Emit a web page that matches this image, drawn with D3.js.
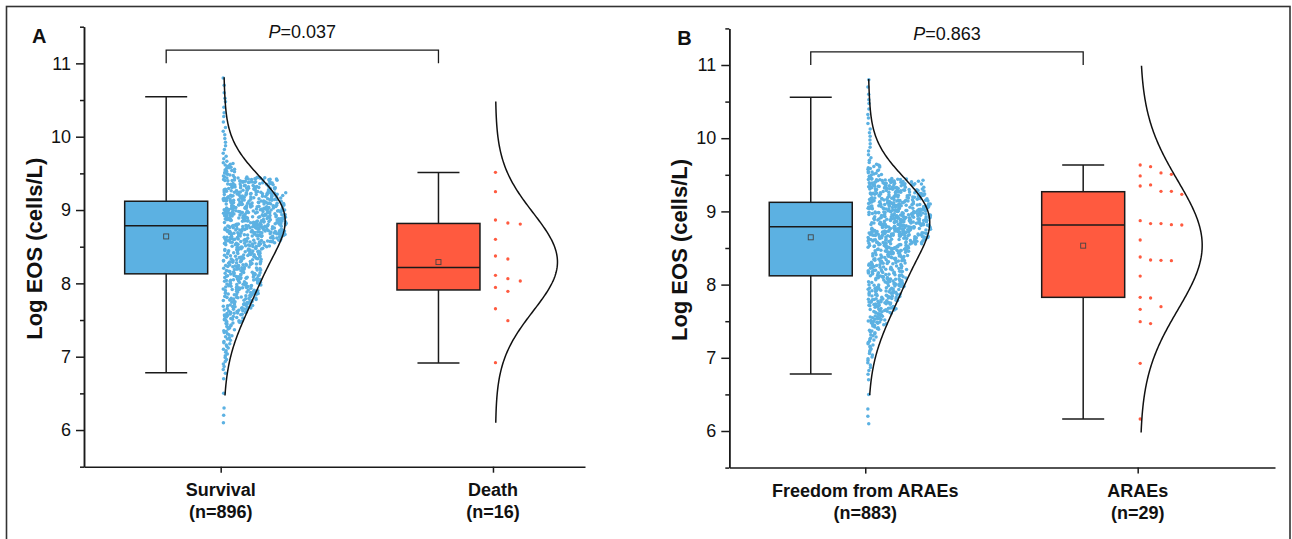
<!DOCTYPE html>
<html>
<head>
<meta charset="utf-8">
<script src="https://cdn.jsdelivr.net/npm/d3@7"></script>
<style>
  body { margin: 0; background: #fff; }
  svg { display: block; font-family: Arial, "Liberation Sans", sans-serif; }
</style>
</head>
<body>
<svg id="chart" width="1292" height="539"></svg>
<script>
// ---- data ----
const groupNames = ['Survival', 'Death', 'Freedom from ARAEs', 'ARAEs'];
const groupN = [896, 16, 883, 29];
const pValues = ['0.037', '0.863'];
const yTicks = [6, 7, 8, 9, 10, 11];
const yMinorTicks = [5.5, 6.5, 7.5, 8.5, 9.5, 10.5, 11.5];

// box stats: [lower whisker, Q1, median, Q3, upper whisker]
const boxSurvival = [6.78, 8.13, 8.785, 9.12, 10.545];
const boxDeath = [6.915, 7.91, 8.217, 8.817, 9.513];
const boxFreedom = [6.78, 8.12, 8.79, 9.124, 10.559];
const boxARAEs = [6.164, 7.826, 8.814, 9.269, 9.634];
const groupMeans = [8.64, 8.29, 8.646, 8.532];

// large groups: counts per 0.1 bin, bins centred on 6.1, 6.2, ... 10.8
const binStart = 6.05;
const binWidth = 0.1;
const survivalBinCounts = [1, 1, 1, 0, 1, 0, 1, 2, 3, 4, 5, 6, 7, 9,
  16, 20, 24, 27, 29, 30, 31, 31, 31, 32, 38, 48, 62,
  66, 66, 64, 58, 50, 46, 44, 12, 10,
  3, 2, 2, 2, 2, 1, 2, 1, 2, 1, 1, 1];
const freedomBinCounts = [1, 1, 1, 0, 1, 0, 1, 2, 3, 4, 5, 6, 7, 9,
  16, 20, 24, 27, 28, 29, 31, 31, 30, 32, 38, 48, 60,
  64, 64, 62, 58, 49, 45, 44, 12, 10,
  3, 2, 2, 2, 2, 1, 2, 1, 2, 1, 1, 1];

// small groups: individual points
const deathValues = [9.514, 9.25, 8.864, 8.809, 8.823, 8.6, 8.332, 8.373,
  8.109, 8.064, 8.032, 7.945, 7.891, 7.654, 7.491, 6.918];
const araesValues = [9.634, 9.611, 9.525, 9.506, 9.484, 9.361, 9.347, 9.274,
  9.274, 9.233, 8.873, 8.833, 8.833, 8.819, 8.814, 8.609, 8.377, 8.336,
  8.332, 8.327, 8.117, 7.826, 7.817, 7.699, 7.662, 7.494, 7.467, 6.924, 6.164];

// extent of each distribution curve
const curveLow = [6.47, 6.1, 6.49, 5.98];
const curveHigh = [10.81, 10.48, 10.81, 10.99];

// ---- styling / layout ----
const blue = '#5cb1e2';
const red = '#ff5a3f';
const groupColors = [blue, red, blue, red];
const boxes = [boxSurvival, boxDeath, boxFreedom, boxARAEs];
const boxOffset = -54.5;
const boxWidth = 83;
const capWidth = 42;
const dotOffset = 2.5;
const curveWidth = 62;
const spreadWidth = 63;

const panels = [
  { letter: 'A', groups: [0, 1], p: pValues[0], left: 84, right: 585, bottom: 466.7, top: 26.7, xDomain: [-0.502, 1.338] },
  { letter: 'B', groups: [2, 3], p: pValues[1], left: 729.3, right: 1275, bottom: 467.6, top: 28.4, xDomain: [-0.499, 1.504] }
];

const svg = d3.select('#chart');

svg.append('rect')
  .attr('x', 6.5).attr('y', 6.5)
  .attr('width', 1283.5).attr('height', 600)
  .attr('fill', 'none').attr('stroke', '#333').attr('stroke-width', 1.6);

// horizontal jitter only (layout), deterministic
function jitter(n) {
  const s = Math.sin(n * 12.9898 + 78.233) * 43758.5453;
  return s - Math.floor(s);
}

function binnedPoints(counts, seed) {
  const points = [];
  counts.forEach((c, i) => {
    const w = spreadWidth * Math.min(1, c / 50);
    for (let j = 0; j < c; j++) {
      points.push({
        v: binStart + (i + (j + 0.5) / c) * binWidth,
        dx: jitter(seed + i * 131 + j) * w
      });
    }
  });
  return points;
}

function swarmPoints(values, y, step, minDist) {
  const placed = [];
  const order = values.map((v, i) => i).sort((a, b) => values[b] - values[a]);
  const points = [];
  order.forEach(i => {
    const py = y(values[i]);
    let c = 0;
    while (placed.some(p => Math.hypot((c - p.c) * step, py - p.y) < minDist)) c++;
    placed.push({ c, y: py });
    points.push({ v: values[i], dx: c * step });
  });
  return points;
}

function kdeCurve(values, lo, hi, h) {
  const n = 220;
  const pts = [];
  for (let k = 0; k <= n; k++) {
    const v = lo + (hi - lo) * k / n;
    let s = 0;
    values.forEach(x => {
      const z = (v - x) / h;
      s += Math.exp(-0.5 * z * z);
    });
    pts.push({ v, d: s });
  }
  const m = d3.max(pts, p => p.d);
  pts.forEach(p => { p.d /= m; });
  return pts;
}

function normalCurve(values, lo, hi) {
  const mean = d3.mean(values);
  const sd = d3.deviation(values);
  return d3.range(0, 221).map(k => {
    const v = lo + (hi - lo) * k / 220;
    const z = (v - mean) / sd;
    return { v, d: Math.exp(-0.5 * z * z) };
  });
}

panels.forEach(panel => {
  const g = svg.append('g');
  const x = d3.scaleLinear().domain(panel.xDomain).range([panel.left, panel.right]);
  const y = d3.scaleLinear().domain([5.5, 11.5]).range([panel.bottom, panel.top]);

  // axes
  const yAxis = g.append('g')
    .attr('transform', `translate(${panel.left},0)`)
    .call(d3.axisLeft(y).tickValues(yTicks).tickFormat(d3.format('d'))
      .tickSize(8).tickSizeOuter(0).tickPadding(5));
  g.append('g')
    .attr('transform', `translate(${panel.left},0)`)
    .call(d3.axisLeft(y).tickValues(yMinorTicks).tickSize(4).tickSizeOuter(0).tickFormat(''));
  g.append('g')
    .attr('transform', `translate(0,${panel.bottom})`)
    .call(d3.axisBottom(x).tickValues([0, 1]).tickSize(6).tickSizeOuter(0).tickFormat(''));
  g.selectAll('.domain, .tick line').attr('stroke', '#1a1a1a').attr('stroke-width', 1.5);
  yAxis.selectAll('text')
    .attr('font-size', 18).attr('fill', '#111')
    .attr('font-family', 'Arial, "Liberation Sans", sans-serif');

  // category labels
  panel.groups.forEach((gi, k) => {
    const t = g.append('text')
      .attr('x', x(k)).attr('y', panel.bottom + 29.5)
      .attr('text-anchor', 'middle')
      .attr('font-size', 18).attr('font-weight', 'bold').attr('fill', '#111');
    t.append('tspan').attr('x', x(k)).text(groupNames[gi]);
    t.append('tspan').attr('x', x(k)).attr('dy', 22).text(`(n=${groupN[gi]})`);
  });

  // y title
  g.append('text')
    .attr('transform', `translate(${panel.left - 42.5},${(panel.top + panel.bottom) / 2 + 2}) rotate(-90)`)
    .attr('text-anchor', 'middle')
    .attr('font-size', 22).attr('font-weight', 'bold').attr('fill', '#111')
    .text('Log EOS (cells/L)');

  // panel letter
  g.append('text')
    .attr('x', panel.left - 52).attr('y', panel.top + 16.5)
    .attr('font-size', 20).attr('font-weight', 'bold').attr('fill', '#111')
    .text(panel.letter);

  // groups
  panel.groups.forEach((gi, k) => {
    const cx = x(k) + boxOffset;
    const base = x(k) + dotOffset;
    const b = boxes[gi];
    const col = groupColors[gi];

    // whiskers
    g.append('line').attr('x1', cx).attr('x2', cx).attr('y1', y(b[0])).attr('y2', y(b[4]))
      .attr('stroke', '#1a1a1a').attr('stroke-width', 1.5);
    [b[0], b[4]].forEach(v => {
      g.append('line').attr('x1', cx - capWidth / 2).attr('x2', cx + capWidth / 2)
        .attr('y1', y(v)).attr('y2', y(v))
        .attr('stroke', '#1a1a1a').attr('stroke-width', 1.5);
    });
    // box
    g.append('rect')
      .attr('x', cx - boxWidth / 2).attr('y', y(b[3]))
      .attr('width', boxWidth).attr('height', y(b[1]) - y(b[3]))
      .attr('fill', col).attr('stroke', '#1a1a1a').attr('stroke-width', 1.5);
    g.append('line').attr('x1', cx - boxWidth / 2).attr('x2', cx + boxWidth / 2)
      .attr('y1', y(b[2])).attr('y2', y(b[2]))
      .attr('stroke', '#1a1a1a').attr('stroke-width', 1.5);
    g.append('rect')
      .attr('x', cx - 2.5).attr('y', y(groupMeans[gi]) - 2.5)
      .attr('width', 5).attr('height', 5)
      .attr('fill', 'none').attr('stroke', '#444').attr('stroke-width', 0.9);

    // points
    let points, curve, r;
    if (gi === 0 || gi === 2) {
      points = binnedPoints(gi === 0 ? survivalBinCounts : freedomBinCounts, gi * 7919);
      curve = kdeCurve(points.map(p => p.v), curveLow[gi], curveHigh[gi], 0.4);
      r = 1.75;
    } else {
      const vals = gi === 1 ? deathValues : araesValues;
      points = gi === 1 ? swarmPoints(vals, y, 12.4, 12) : swarmPoints(vals, y, 10.4, 10);
      curve = normalCurve(vals, curveLow[gi], curveHigh[gi]);
      r = 1.65;
    }
    g.append('g').selectAll('circle')
      .data(points)
      .join('circle')
      .attr('cx', d => base + d.dx)
      .attr('cy', d => y(d.v))
      .attr('r', r)
      .attr('fill', col);

    g.append('path')
      .datum(curve)
      .attr('fill', 'none').attr('stroke', '#111').attr('stroke-width', 1.5)
      .attr('d', d3.line().x(d => base + d.d * curveWidth).y(d => y(d.v)));
  });

  // significance bracket
  const x0 = x(0) + boxOffset;
  const x1 = x(1) + boxOffset;
  const yb = y(11.18);
  const yl = y(11.0);
  g.append('path')
    .attr('d', `M${x0},${yl}V${yb}H${x1}V${yl}`)
    .attr('fill', 'none').attr('stroke', '#1a1a1a').attr('stroke-width', 1.3);
  const pt = g.append('text')
    .attr('x', (x0 + x1) / 2).attr('y', yb - 12)
    .attr('text-anchor', 'middle').attr('font-size', 18).attr('fill', '#111');
  pt.append('tspan').attr('font-style', 'italic').text('P');
  pt.append('tspan').text('=' + panel.p);
});
</script>
</body>
</html>
